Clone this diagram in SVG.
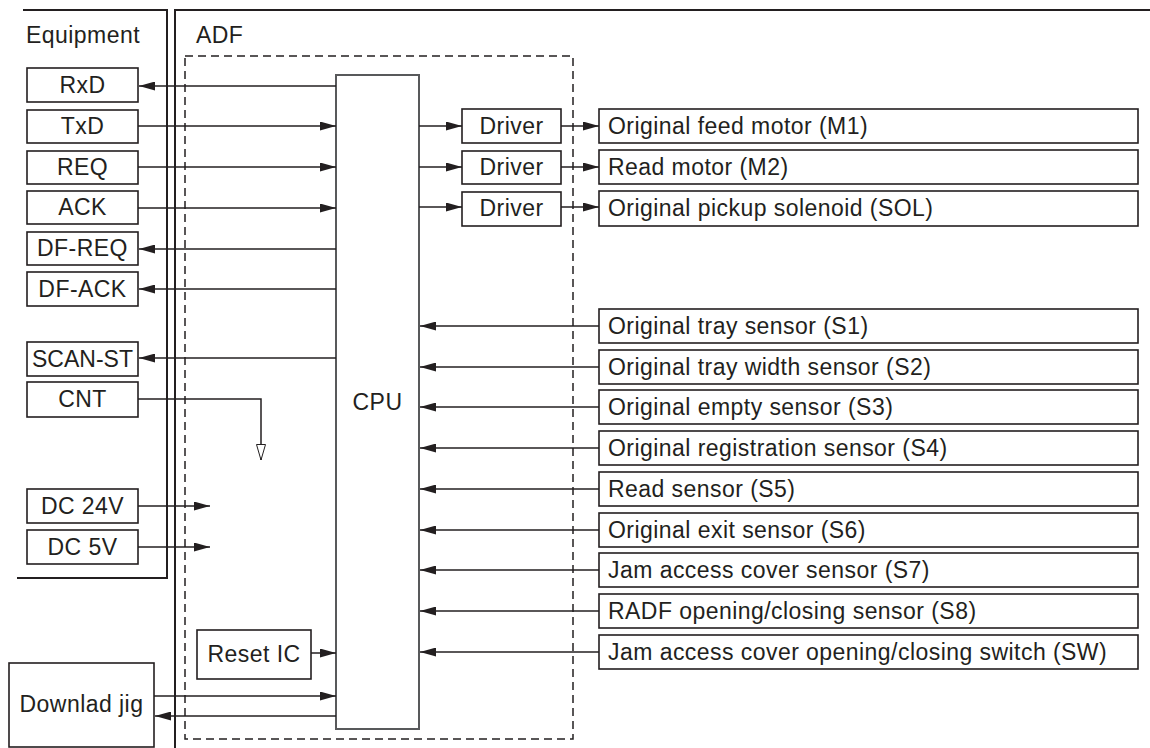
<svg xmlns="http://www.w3.org/2000/svg" width="1150" height="748" viewBox="0 0 1150 748">
<style>
text{font-family:"Liberation Sans",Arial,sans-serif;font-size:23px;fill:#231f20;letter-spacing:0.45px}
.c{text-anchor:middle}
.box{fill:#fff;stroke:#231f20;stroke-width:1.6}
.panel{fill:none;stroke:#231f20;stroke-width:2}
.dash{fill:none;stroke:#231f20;stroke-width:1.5;stroke-dasharray:8 5}
.cpu{fill:#fff;stroke:#58595b;stroke-width:2}
.ln{fill:none;stroke:#231f20;stroke-width:1.5}
.ar{marker-end:url(#ah)}
</style>
<defs>
<marker id="ah" markerUnits="userSpaceOnUse" markerWidth="17" markerHeight="9" refX="16" refY="4.5" orient="auto"><path d="M0,0 L16,4.5 L0,9 z" fill="#231f20"/></marker>
<marker id="oh" markerUnits="userSpaceOnUse" markerWidth="18" markerHeight="12" refX="16" refY="5" orient="auto"><path d="M0.5,0.5 L16,5 L0.5,9.5 z" fill="#fff" stroke="#231f20" stroke-width="1"/></marker>
</defs>
<g id="panels">
<path class="panel" d="M23,10 H167 V578 H17"/>
<path class="panel" d="M175,748 V10 H1150"/>
<text x="26" y="43">Equipment</text>
<text x="196" y="43">ADF</text>
<rect class="dash" x="185" y="56" width="388" height="683"/>
</g>
<g id="cpu"><rect class="cpu" x="336" y="75" width="83" height="654"/><text class="c" x="377.5" y="410">CPU</text></g>
<g id="eq-rxd"><rect class="box" x="27" y="68" width="111" height="34"/><text class="c" x="82.5" y="93">RxD</text></g>
<g id="eq-txd"><rect class="box" x="27" y="110" width="111" height="33"/><text class="c" x="82.5" y="134">TxD</text></g>
<g id="eq-req"><rect class="box" x="27" y="151" width="111" height="33"/><text class="c" x="82.5" y="175">REQ</text></g>
<g id="eq-ack"><rect class="box" x="27" y="191" width="111" height="33"/><text class="c" x="82.5" y="215">ACK</text></g>
<g id="eq-dfreq"><rect class="box" x="27" y="232" width="111" height="33"/><text class="c" x="82.5" y="256">DF-REQ</text></g>
<g id="eq-dfack"><rect class="box" x="27" y="272" width="111" height="34"/><text class="c" x="82.5" y="297">DF-ACK</text></g>
<g id="eq-scanst"><rect class="box" x="27" y="342" width="111" height="34"/><text class="c" x="82.5" y="367" style="letter-spacing:0px">SCAN-ST</text></g>
<g id="eq-cnt"><rect class="box" x="27" y="382" width="111" height="35"/><text class="c" x="82.5" y="407">CNT</text></g>
<g id="eq-dc24"><rect class="box" x="27" y="489" width="111" height="34"/><text class="c" x="82.5" y="514">DC 24V</text></g>
<g id="eq-dc5"><rect class="box" x="27" y="530" width="111" height="34"/><text class="c" x="82.5" y="555">DC 5V</text></g>
<g id="reset-ic"><rect class="box" x="197" y="630" width="114" height="49"/><text class="c" x="254" y="662">Reset IC</text></g>
<g id="jig"><rect class="box" x="9" y="663" width="145" height="84"/><text class="c" x="81.5" y="712">Downlad jig</text></g>
<g id="driver1"><rect class="box" x="462" y="109" width="99" height="34"/><text class="c" x="511.5" y="134">Driver</text></g>
<g id="driver2"><rect class="box" x="462" y="151" width="99" height="33"/><text class="c" x="511.5" y="175">Driver</text></g>
<g id="driver3"><rect class="box" x="462" y="192" width="99" height="34"/><text class="c" x="511.5" y="216">Driver</text></g>
<g id="m1"><rect class="box" x="599" y="109" width="539" height="34"/><text x="608" y="134">Original feed motor (M1)</text></g>
<g id="m2"><rect class="box" x="599" y="150" width="539" height="34"/><text x="608" y="175">Read motor (M2)</text></g>
<g id="sol"><rect class="box" x="599" y="191" width="539" height="35"/><text x="608" y="216">Original pickup solenoid (SOL)</text></g>
<g id="s1"><rect class="box" x="599" y="309" width="539" height="34"/><text x="608" y="334">Original tray sensor (S1)</text></g>
<g id="s2"><rect class="box" x="599" y="350" width="539" height="34"/><text x="608" y="375">Original tray width sensor (S2)</text></g>
<g id="s3"><rect class="box" x="599" y="390" width="539" height="34"/><text x="608" y="415">Original empty sensor (S3)</text></g>
<g id="s4"><rect class="box" x="599" y="431" width="539" height="34"/><text x="608" y="456">Original registration sensor (S4)</text></g>
<g id="s5"><rect class="box" x="599" y="472" width="539" height="34"/><text x="608" y="497">Read sensor (S5)</text></g>
<g id="s6"><rect class="box" x="599" y="513" width="539" height="34"/><text x="608" y="538">Original exit sensor (S6)</text></g>
<g id="s7"><rect class="box" x="599" y="553" width="539" height="34"/><text x="608" y="578">Jam access cover sensor (S7)</text></g>
<g id="s8"><rect class="box" x="599" y="594" width="539" height="34"/><text x="608" y="619">RADF opening/closing sensor (S8)</text></g>
<g id="sw"><rect class="box" x="599" y="635" width="539" height="34"/><text x="608" y="660">Jam access cover opening/closing switch (SW)</text></g>
<g id="connectors">
<path class="ln ar" d="M336,86 H139"/>
<path class="ln ar" d="M138,126 H336"/>
<path class="ln ar" d="M138,167 H336"/>
<path class="ln ar" d="M138,208 H336"/>
<path class="ln ar" d="M336,249 H139"/>
<path class="ln ar" d="M336,289 H139"/>
<path class="ln ar" d="M336,358 H139"/>
<path class="ln" d="M138,399 H261 V460" marker-end="url(#oh)"/>
<path class="ln ar" d="M138,506 H210"/>
<path class="ln ar" d="M138,547 H210"/>
<path class="ln ar" d="M311,653 H336"/>
<path class="ln ar" d="M154,696 H336"/>
<path class="ln ar" d="M336,716 H155"/>
<path class="ln ar" d="M419,126 H462"/>
<path class="ln ar" d="M419,167 H462"/>
<path class="ln ar" d="M419,207 H462"/>
<path class="ln ar" d="M561,126 H599"/>
<path class="ln ar" d="M561,167 H599"/>
<path class="ln ar" d="M561,207 H599"/>
<path class="ln ar" d="M599,326 H420"/>
<path class="ln ar" d="M599,367 H420"/>
<path class="ln ar" d="M599,407 H420"/>
<path class="ln ar" d="M599,448 H420"/>
<path class="ln ar" d="M599,489 H420"/>
<path class="ln ar" d="M599,530 H420"/>
<path class="ln ar" d="M599,570 H420"/>
<path class="ln ar" d="M599,611 H420"/>
<path class="ln ar" d="M599,652 H420"/>
</g>
</svg>
